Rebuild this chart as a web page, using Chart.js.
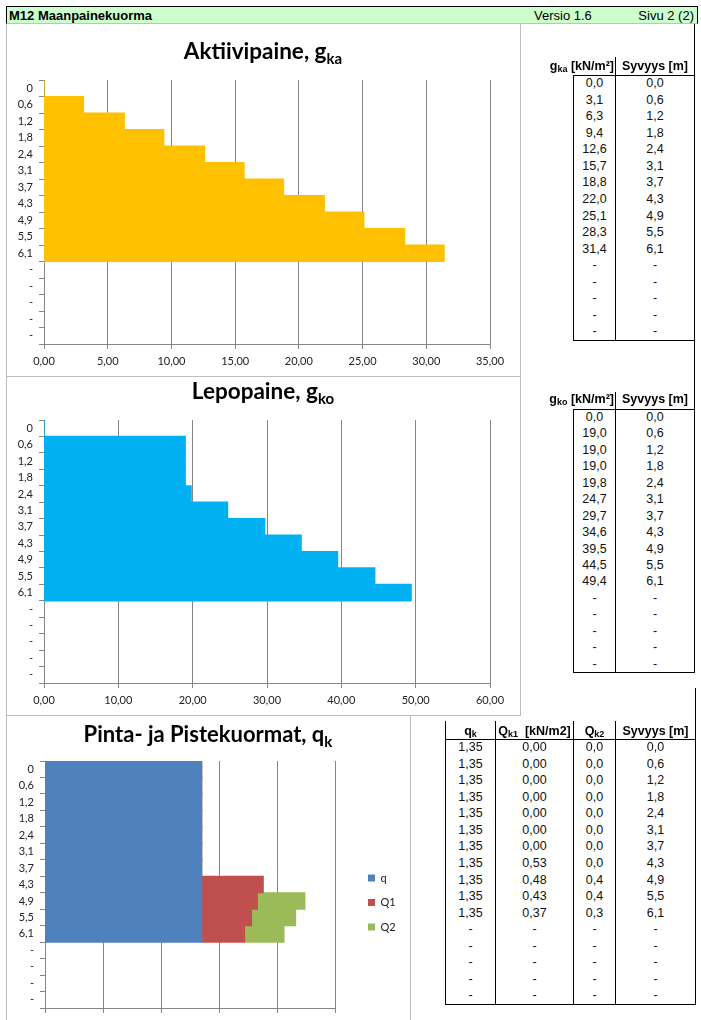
<!DOCTYPE html>
<html>
<head>
<meta charset="utf-8">
<script src="https://cdn.jsdelivr.net/npm/chart.js@4.4.1/dist/chart.umd.min.js"></script>
<style>
    html, body { margin: 0; padding: 0; background: #fff; }
    body { position: relative; width: 701px; height: 1020px; overflow: hidden; font-family: "Liberation Sans", Arial, sans-serif; }
    canvas { position: absolute; }
    .ln { position: absolute; z-index: 2; }
    .txt { position: absolute; white-space: nowrap; font-size: 12.5px; color: #111; }
    .txt sub { font-size: 9px; vertical-align: -2px; line-height: 0; }
    .hd { font-weight: bold; color: #000; }
    .ctitle { position: absolute; text-align: center; font-family: Lato, sans-serif; font-weight: bold; font-size: 22.5px; line-height: 26px; color: #000; }
    .ctitle sub { font-size: 15px; vertical-align: -5px; line-height: 0; }
    #topbar { position: absolute; left: 6px; top: 6px; width: 692px; height: 18px; background: #ccffcc; box-sizing: border-box;
              border-top: 1px solid #000; border-left: 1px solid #000; border-right: 1px solid #000; border-bottom: 1px solid #c0c0c0; font-size: 13px; }
    #topbar span { position: absolute; top: 1px; line-height: 15px; }
</style>
</head>
<body>
<div id="topbar">
    <span style="left:2px;font-weight:bold;">M12 Maanpainekuorma</span>
    <span style="left:527px;">Versio 1.6</span>
    <span style="right:3px;">Sivu 2 (2)</span>
</div>

<canvas id="activeChart" width="514" height="352" style="left:6px;top:24px;"></canvas>
<canvas id="restChart" width="514" height="339" style="left:6px;top:376px;"></canvas>
<canvas id="loadChart" width="404" height="325" style="left:6px;top:715px;"></canvas>

<div class="ctitle" style="left:6px;width:514px;top:38px;">Aktiivipaine, g<sub>ka</sub></div>
<div class="ctitle" style="left:6px;width:514px;top:378px;">Lepopaine, g<sub>ko</sub></div>
<div class="ctitle" style="left:6px;width:404px;top:721px;font-size:22px;">Pinta- ja Pistekuormat, q<sub>k</sub></div>

<script>
// depth rows shared by all three charts / tables
const depths = [0, 0.6, 1.2, 1.8, 2.4, 3.1, 3.7, 4.3, 4.9, 5.5, 6.1];
const emptyRows = ['-', '-', '-', '-', '-'];

// g_ka  [kN/m2]
const activePressure = [0.0, 3.1, 6.3, 9.4, 12.6, 15.7, 18.8, 22.0, 25.1, 28.3, 31.4];
// g_ko  [kN/m2]
const restPressure = [0.0, 19.0, 19.0, 19.0, 19.8, 24.7, 29.7, 34.6, 39.5, 44.5, 49.4];
// q_k, Q_k1, Q_k2
const surfaceLoad = [1.35, 1.35, 1.35, 1.35, 1.35, 1.35, 1.35, 1.35, 1.35, 1.35, 1.35];
const pointLoad1 = [0, 0, 0, 0, 0, 0, 0, 0.53, 0.48, 0.43, 0.37];
const pointLoad2 = [0, 0, 0, 0, 0, 0, 0, 0, 0.41, 0.38, 0.34];

const loadSeries = ['q', 'Q1', 'Q2'];

const fmt = (v, d) => v.toFixed(d).replace('.', ',');
const depthLabels = depths.map(d => String(d).replace('.', ','));

const gridGrey = '#868686';
const tickFont = { family: 'Lato', size: 11 };

const fixWidth = w => scale => { scale.width = w; };
const fixHeight = h => scale => { scale.height = h; };

// moves the legend box to a fixed spot, like in the excel sheet
const placeLegend = {
    id: 'placeLegend',
    afterLayout(chart, args, opts) {
        const lg = chart.legend;
        if (!lg || opts.x == null) return;
        const dx = opts.x - lg.left, dy = opts.y - lg.top;
        lg.left += dx; lg.right += dx;
        lg.top += dy; lg.bottom += dy;
    }
};

function barOptions({ xMax, xStep, top, right, yWidth, xHeight, legend }) {
    return {
        indexAxis: 'y',
        responsive: false,
        animation: false,
        layout: { padding: { top, right, left: 0, bottom: 0 } },
        plugins: {
            legend: legend || { display: false },
            tooltip: { enabled: false },
        },
        scales: {
            x: {
                stacked: true,
                min: 0,
                max: xMax,
                ticks: {
                    stepSize: xStep,
                    color: '#222',
                    font: tickFont,
                    padding: 6,
                    callback: v => fmt(v, 2),
                },
                grid: { color: gridGrey, tickLength: 5 },
                border: { color: gridGrey },
                afterFit: fixHeight(xHeight),
            },
            y: {
                stacked: true,
                ticks: { color: '#222', font: tickFont, padding: 6, autoSkip: false },
                grid: { drawOnChartArea: false, tickLength: 5, color: gridGrey, offset: true },
                border: { color: gridGrey },
                afterFit: fixWidth(yWidth),
            },
        },
    };
}

function barSet(label, data, color) {
    return {
        label, data, backgroundColor: color, borderWidth: 0,
        categoryPercentage: 1, barPercentage: 1, inflateAmount: 0.6,
    };
}

new Chart(document.getElementById('activeChart'), {
    type: 'bar',
    data: {
        labels: depthLabels.concat(emptyRows),
        datasets: [barSet('gka', activePressure, '#FFC000')],
    },
    options: barOptions({ xMax: 35, xStep: 5, top: 56, right: 30, yWidth: 38, xHeight: 32 }),
});

new Chart(document.getElementById('restChart'), {
    type: 'bar',
    data: {
        labels: depthLabels.concat(emptyRows),
        datasets: [barSet('gko', restPressure, '#00B0F0')],
    },
    options: barOptions({ xMax: 60, xStep: 10, top: 44, right: 30, yWidth: 38, xHeight: 32 }),
});

const loadOptions = barOptions({
    xMax: 2.5, xStep: 0.5, top: 46, right: 75, yWidth: 39, xHeight: 32,
    legend: {
        position: 'chartArea',
        align: 'start',
        labels: { boxWidth: 7, boxHeight: 7, padding: 13.5, color: '#222', font: tickFont },
    },
});
loadOptions.plugins.placeLegend = { x: 348.5, y: 144 };

new Chart(document.getElementById('loadChart'), {
    type: 'bar',
    data: {
        labels: depthLabels.concat(emptyRows.slice(0, 4)),
        datasets: [
            barSet(loadSeries[0], surfaceLoad, '#4F81BD'),
            barSet(loadSeries[1], pointLoad1, '#C0504D'),
            barSet(loadSeries[2], pointLoad2, '#9BBB59'),
        ],
    },
    options: loadOptions,
    plugins: [placeLegend],
});

// ---- sheet lines and tables ----
function line(x, y, w, h, color) {
    const d = document.createElement('div');
    d.className = 'ln';
    Object.assign(d.style, { left: x + 'px', top: y + 'px', width: w + 'px', height: h + 'px', background: color });
    document.body.appendChild(d);
}
const hline = (x1, x2, y, c = '#000') => line(x1, y, x2 - x1 + 1, 1, c);
const vline = (x, y1, y2, c = '#000') => line(x, y1, 1, y2 - y1 + 1, c);

function text(html, left, width, top, height, align, cls) {
    const d = document.createElement('div');
    d.className = 'txt' + (cls ? ' ' + cls : '');
    d.innerHTML = html;
    Object.assign(d.style, {
        left: left + 'px', width: width + 'px', top: top + 'px', height: height + 'px',
        lineHeight: height + 'px', textAlign: align,
    });
    document.body.appendChild(d);
}

function buildTable({ edges, top, bottom, headY, headers, columns }) {
    const rows = columns[0].length;
    const rowH = (bottom - top) / rows;
    columns.forEach((col, c) => {
        col.forEach((v, r) => {
            text(v, edges[c] + 1, edges[c + 1] - edges[c] - 1, top + r * rowH, rowH, 'center');
        });
    });
    headers.forEach(h => text(h.html, h.left, h.right - h.left, headY - 9, 18, h.align || 'center', 'hd'));
}

const withDash = arr => arr.concat(emptyRows);

// chart frames (grey)
const frame = '#bdbdbd';
vline(6, 24, 1020, frame);
vline(520, 24, 715, frame);
hline(6, 520, 376, frame);
hline(6, 520, 715, frame);
vline(410, 715, 1020, frame);

// table 1
hline(573, 694, 75); hline(573, 694, 340);
vline(573, 75, 340); vline(615, 57, 340);
vline(694, 24, 672);
buildTable({
    edges: [573, 615, 694], top: 75, bottom: 340, headY: 66,
    headers: [
        { html: 'g<sub>ka</sub> [kN/m²]', left: 520, right: 614, align: 'right' },
        { html: 'Syvyys [m]', left: 616, right: 694 },
    ],
    columns: [withDash(activePressure.map(v => fmt(v, 1))), withDash(depths.map(v => fmt(v, 1)))],
});

// table 2
hline(573, 694, 409); hline(573, 694, 672);
vline(573, 409, 672); vline(615, 392, 672);
buildTable({
    edges: [573, 615, 694], top: 409, bottom: 672, headY: 399,
    headers: [
        { html: 'g<sub>ko</sub> [kN/m²]', left: 520, right: 614, align: 'right' },
        { html: 'Syvyys [m]', left: 616, right: 694 },
    ],
    columns: [withDash(restPressure.map(v => fmt(v, 1))), withDash(depths.map(v => fmt(v, 1)))],
});

// table 3
hline(445, 695, 739); hline(445, 695, 1004);
vline(445, 721, 1004); vline(495, 721, 1004); vline(573, 721, 1004); vline(615, 721, 1004);
vline(695, 688, 1004);
buildTable({
    edges: [445, 495, 573, 615, 695], top: 739, bottom: 1004, headY: 731,
    headers: [
        { html: 'q<sub>k</sub>', left: 446, right: 495 },
        { html: 'Q<sub>k1</sub>&nbsp; [kN/m2]', left: 496, right: 573 },
        { html: 'Q<sub>k2</sub>', left: 574, right: 615 },
        { html: 'Syvyys [m]', left: 616, right: 695 },
    ],
    columns: [
        withDash(surfaceLoad.map(v => fmt(v, 2))),
        withDash(pointLoad1.map(v => fmt(v, 2))),
        withDash(pointLoad2.map(v => fmt(v, 1))),
        withDash(depths.map(v => fmt(v, 1))),
    ],
});
</script>
</body>
</html>
